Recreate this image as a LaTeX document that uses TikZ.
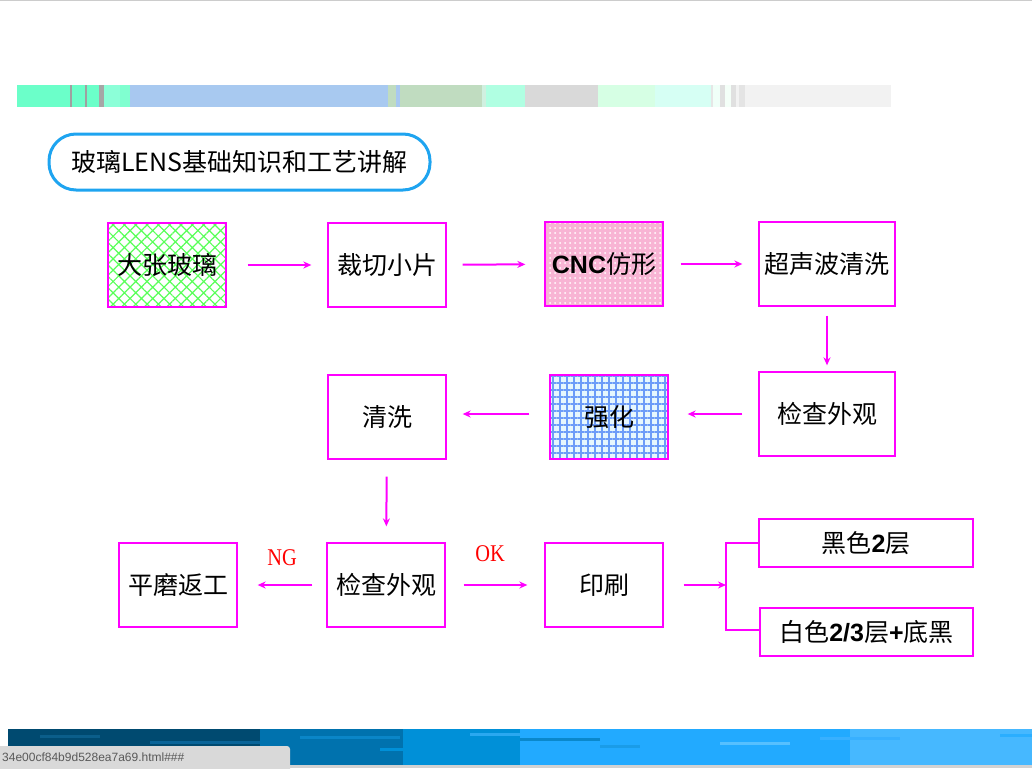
\documentclass[tikz,border=0pt]{standalone}
\usepackage{fontspec}
\setmainfont{Liberation Sans}
\newfontfamily\cjk{Noto Sans CJK SC}
\newfontfamily\tms{Liberation Serif}
\usepackage{tikz}
\usetikzlibrary{arrows.meta,patterns.meta}
\definecolor{mag}{HTML}{FF00FF}
\definecolor{pillblue}{HTML}{1EA4F0}
\definecolor{statgray}{HTML}{D9D9D9}
\definecolor{cncpink}{HTML}{F8B4D4}
\definecolor{gridblue}{HTML}{6C9CF8}
\newcommand{\bnum}[1]{{\rmfamily\bfseries #1}}

\begin{document}
\begin{tikzpicture}[x=1pt, y=-1pt,
  box/.style={draw=mag, line width=1.3pt, inner sep=0pt, minimum width=118pt,
    minimum height=84pt, font=\cjk\fontsize{25}{29}\selectfont},
  wide/.style={box, minimum width=214pt, minimum height=48pt},
  arr/.style={-{Stealth[length=8pt,width=7pt]}, mag, line width=2pt},
  flag/.style={text=red, xscale=0.85, font=\tms\fontsize{24}{27}\selectfont}
]
  \useasboundingbox (0,0) rectangle (1032,768);
  \draw[gray!40, line width=1pt] (0,0.5) -- (1032,0.5);

  % top colour strip
  \foreach \xa/\xb/\col in {17/70/6BFFC9, 70/72/A0A0A0, 72/85/6BFFC9, 85/87/A0A0A0,
      87/99/6BFFC9, 99/104/A6A6A6, 104/120/8CFFD8, 120/130/80FFD0, 130/140/A8C8F0,
      140/388/A8C9F0, 388/396/C0DCC0, 396/400/A8C8F0, 400/482/C0DCC0, 482/486/D0F0E0,
      486/525/B0FFE2, 525/598/D9D9D9, 598/655/D6FFE4, 655/711/D6FFF4, 711/713/E6E6E6,
      713/720/F0FFF8, 720/725/E0E0E0, 725/731/F4FFF8, 731/736/E0E0E0, 736/739/F2F2F2,
      739/745/E4E4E4, 745/891/F2F2F2}
    {\definecolor{seg}{HTML}{\col}
     \fill[seg] (\xa,85) rectangle (\xb,107);}

  % title
  \node[draw=pillblue, line width=3pt, rounded corners=27pt, minimum width=381pt,
    minimum height=56pt, font=\cjk\fontsize{25}{29}\selectfont] (title) at (239.5,162)
    {玻璃LENS基础知识和工艺讲解};

  % process boxes
  \node[box, fill=green!6, pattern={Hatch[angle=45,distance=8pt,line width=1.2pt]},
    pattern color=green!65] (glass) at (167,265) {};
  \node[box, draw=mag] (glasst) at (167,265) {大张玻璃};
  \node[box] (cut) at (387,265) {裁切小片};
  \node[box, fill=cncpink] (cncbg) at (604,264) {};
  \node[box, pattern={Dots[distance=5pt,radius=1pt]}, pattern color=white] (cnc) at (604,264) {};
  \node[box] (cnct) at (604,264) {\bnum{CNC}仿形};
  \node[box, minimum width=136pt] (wash) at (827,264) {超声波清洗};

  \node[box, minimum width=136pt] (insp) at (827,414) {检查外观};
  \node[box, fill=cyan!10] (strbg) at (609,417) {};
  \node[box, pattern={Hatch[angle=0,distance=7pt,line width=1.5pt]},
    pattern color=gridblue] (str) at (609,417) {};
  \node[box] (strt) at (609,417) {强化};
  \node[box] (clean) at (387,417) {清洗};

  \node[box] (rework) at (178,585) {平磨返工};
  \node[box] (check) at (386,585) {检查外观};
  \node[box] (print) at (604,585) {印刷};
  \node[wide] (black) at (866,543) {黑色\bnum{2}层};
  \node[wide, minimum width=213pt] (white) at (866.5,632) {白色\bnum{2/3}层\bnum{+}底黑};

  % flow
  \draw[arr, shorten <=21pt, shorten >=16pt] (glasst) -- (cut);
  \draw[arr, shorten <=16pt, shorten >=19pt] (cut) -- (cnct);
  \draw[arr, shorten <=17pt, shorten >=16pt] (cnct) -- (wash);
  \draw[arr, shorten <=9pt, shorten >=6pt] (wash) -- (insp);
  \draw[arr, shorten <=16pt, shorten >=19pt] (insp.west) -- (strt.east |- insp.west);
  \draw[arr, shorten <=20pt, shorten >=16pt] (strt.west |- insp.west) -- (clean.east |- insp.west);
  \draw[arr, shorten <=17pt, shorten >=16pt] (clean) -- (check);
  \draw[arr, shorten <=14pt, shorten >=20pt] (check) -- node[flag, above=15pt, pos=0.5] {NG} (rework);
  \draw[arr, shorten <=18pt, shorten >=17pt] (check) -- node[flag, above=19pt, pos=0.45] {OK} (print);

  \coordinate (fork) at (726,585);
  \draw[arr, shorten <=20pt] (print) -- (fork);
  \draw[mag, line width=1.6pt] (black.west) -| (fork) |- (white.west |- 0,630);

  % bottom strip
  \foreach \xa/\xb/\col in {8/260/004A70, 260/403/0072AE, 403/520/0090D8,
      520/850/22AAFF, 850/1032/46B8FF}
    {\definecolor{seg}{HTML}{\col}
     \fill[seg] (\xa,729) rectangle (\xb,765);}
  \foreach \xa/\xb/\ya/\col in {40/100/735/0B5E8A, 150/260/741/0A6498, 300/400/736/0A86C8,
      380/420/748/0090D8, 470/520/733/2AA8F0, 520/600/738/0A88CC, 600/640/745/1A9CE8,
      720/790/742/56C0FF, 820/900/737/38B0FF, 1000/1032/734/2AAEFF}
    {\definecolor{seg}{HTML}{\col}
     \fill[seg] (\xa,\ya) rectangle (\xb,\ya+3);}
  \fill[gray!35] (0,765) rectangle (1032,768);
  \fill[statgray, rounded corners=3pt] (-5,746) rectangle (290,772);
  \node[anchor=west, inner sep=0pt, text=black!65, font=\fontsize{12}{14}\selectfont]
    (url) at (2,757) {34e00cf84b9d528ea7a69.html\#\#\#};
\end{tikzpicture}
\end{document}
